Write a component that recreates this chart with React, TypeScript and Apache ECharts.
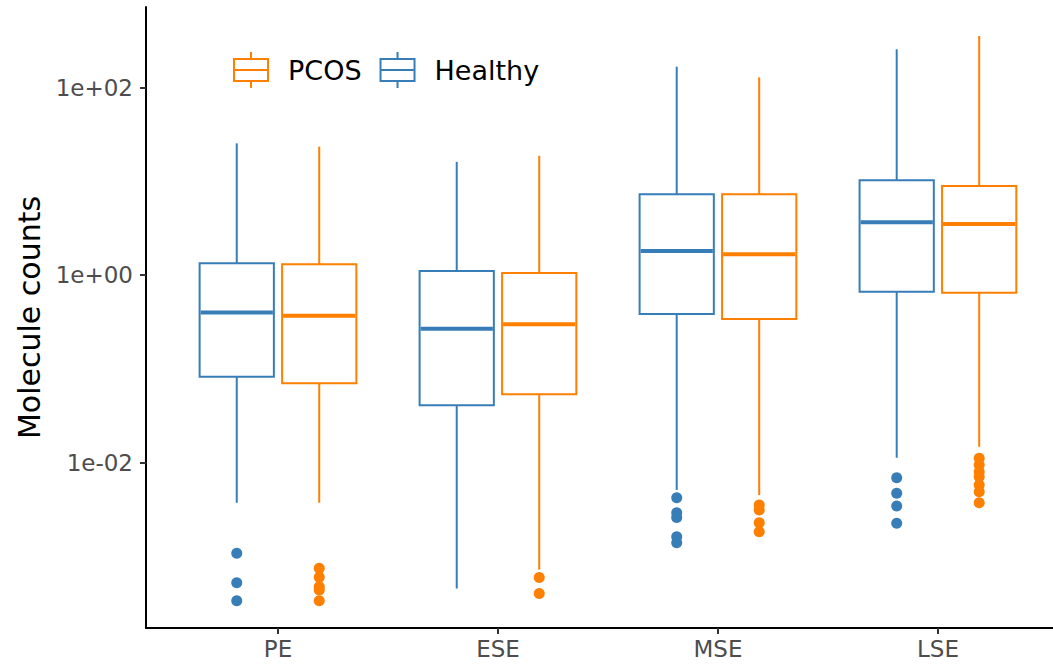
import React, { useEffect, useRef } from 'react';
import * as echarts from 'echarts';

// ---------- data ----------
const categories = ['PE', 'ESE', 'MSE', 'LSE'];

// [lower whisker, Q1, median, Q3, upper whisker]
const healthyBoxes = [
  [0.00374, 0.0827, 0.4, 1.34, 25.5],
  [0.000455, 0.0411, 0.268, 1.11, 16.2],
  [0.00512, 0.386, 1.81, 7.29, 167.5],
  [0.0113, 0.667, 3.67, 10.3, 257],
];
const pcosBoxes = [
  [0.00374, 0.0703, 0.37, 1.31, 23.5],
  [0.000724, 0.0539, 0.299, 1.055, 18.8],
  [0.00452, 0.341, 1.67, 7.29, 129],
  [0.0148, 0.65, 3.52, 8.94, 356],
];
const healthyOutliers = [
  [0.00108, 0.000525, 0.000337],
  [],
  [0.00423, 0.00293, 0.00261, 0.00162, 0.0014],
  [0.00692, 0.00472, 0.00345, 0.00226],
];
const pcosOutliers = [
  [0.000748, 0.0006, 0.000475, 0.000439, 0.000337],
  [0.000596, 0.000402],
  [0.00354, 0.00313, 0.00229, 0.00184],
  [0.01114, 0.00945, 0.00802, 0.00709, 0.00578, 0.00491, 0.00374],
];
const yTicks = [0.01, 1, 100];
const yTickLabels = ['1e-02', '1e+00', '1e+02'];
const legendOrder = ['PCOS', 'Healthy'];

// ---------- style / layout ----------
const BLUE = '#377EB8';
const ORANGE = '#FF7F00';
const FONT = 'DejaVu Sans';
const DODGE = 0.1875; // category units
const BOX_W = 0.3375; // category units
const LEGEND_ICON =
  'path://M0,6H36V8H0Z M0,28H36V30H0Z M0,6H2V30H0Z M34,6H36V30H34Z M0,17H36V19H0Z M17,0H19V6H17Z M17,30H19V36H17Z';

const log10 = (v: number) => Math.log10(v);

const groups = [
  { name: 'Healthy', color: BLUE, boxes: healthyBoxes, outliers: healthyOutliers, offset: -DODGE },
  { name: 'PCOS', color: ORANGE, boxes: pcosBoxes, outliers: pcosOutliers, offset: DODGE },
];

function makeRenderItem(color: string) {
  return (params: any, api: any) => {
    const x = api.value(0);
    const lo = api.coord([x, api.value(1)]);
    const q1 = api.coord([x, api.value(2)]);
    const med = api.coord([x, api.value(3)]);
    const q3 = api.coord([x, api.value(4)]);
    const hi = api.coord([x, api.value(5)]);
    const w = api.size([BOX_W, 0])[0];
    const cx = q1[0];
    const lineStyle = { stroke: color, lineWidth: 2, fill: null };
    return {
      type: 'group',
      children: [
        { type: 'line', shape: { x1: cx, y1: hi[1], x2: cx, y2: q3[1] }, style: lineStyle },
        { type: 'line', shape: { x1: cx, y1: q1[1], x2: cx, y2: lo[1] }, style: lineStyle },
        {
          type: 'rect',
          shape: { x: cx - w / 2, y: q3[1], width: w, height: q1[1] - q3[1] },
          style: { fill: '#ffffff', stroke: color, lineWidth: 2 },
        },
        {
          type: 'line',
          shape: { x1: cx - w / 2 + 1, y1: med[1], x2: cx + w / 2 - 1, y2: med[1] },
          style: { stroke: color, lineWidth: 4, fill: null },
        },
      ],
    };
  };
}

export default function App() {
  const ref = useRef<HTMLDivElement>(null);

  useEffect(() => {
    if (!ref.current) return;
    const chart = echarts.init(ref.current, null, { renderer: 'svg' });

    const series: any[] = [];
    groups.forEach((g) => {
      series.push({
        name: g.name,
        type: 'custom',
        xAxisIndex: 0,
        yAxisIndex: 0,
        itemStyle: { color: g.color },
        renderItem: makeRenderItem(g.color),
        encode: { x: 0, y: [1, 2, 3, 4, 5] },
        data: g.boxes.map((b, i) => [i + 1 + g.offset, ...b.map(log10)]),
        z: 2,
      });
      const pts: number[][] = [];
      g.outliers.forEach((arr, i) => arr.forEach((v) => pts.push([i + 1 + g.offset, log10(v)])));
      series.push({
        name: g.name,
        type: 'scatter',
        symbol: 'circle',
        symbolSize: 11,
        itemStyle: { color: g.color, opacity: 1 },
        data: pts,
        z: 3,
      });
    });

    const catTicks = categories.map((_, i) => i + 1);
    const yTickVals = yTicks.map(log10);

    chart.setOption({
      animation: false,
      backgroundColor: '#ffffff',
      grid: { left: 146, right: 0, top: 7, bottom: 37, containLabel: false },
      legend: {
        data: legendOrder.map((n) => ({
          name: n,
          itemStyle: { color: n === 'PCOS' ? ORANGE : BLUE, borderWidth: 0 },
        })),
        icon: LEGEND_ICON,
        left: 233,
        top: 52,
        padding: 0,
        itemGap: 18,
        itemWidth: 36,
        itemHeight: 36,
        selectedMode: false,
        textStyle: { fontFamily: FONT, fontSize: 27, color: '#000000', padding: [0, 0, 0, 14] },
      },
      xAxis: {
        type: 'value',
        min: 0.4,
        max: 4.523,
        axisLine: { show: true, onZero: false, lineStyle: { color: '#000000', width: 2 } },
        axisTick: { show: true, customValues: catTicks, length: 6, lineStyle: { color: '#333333', width: 2 } },
        axisLabel: {
          show: true,
          customValues: catTicks,
          formatter: (v: number) => categories[Math.round(v) - 1] ?? '',
          fontFamily: FONT,
          fontSize: 23,
          color: '#4d4d4d',
          margin: 9,
        },
        splitLine: { show: false },
      },
      yAxis: {
        type: 'value',
        min: -3.763,
        max: 2.861,
        name: 'Molecule counts',
        nameLocation: 'middle',
        nameRotate: 90,
        nameGap: 100,
        nameTextStyle: { fontFamily: FONT, fontSize: 30, color: '#000000' },
        axisLine: { show: true, onZero: false, lineStyle: { color: '#000000', width: 2 } },
        axisTick: { show: true, customValues: yTickVals, length: 6, lineStyle: { color: '#333333', width: 2 } },
        axisLabel: {
          show: true,
          customValues: yTickVals,
          formatter: (v: number) => {
            const i = yTickVals.findIndex((t) => Math.abs(t - v) < 1e-6);
            return i >= 0 ? yTickLabels[i] : '';
          },
          fontFamily: FONT,
          fontSize: 23,
          color: '#4d4d4d',
          margin: 13,
        },
        splitLine: { show: false },
      },
      series,
    });

    return () => chart.dispose();
  }, []);

  return (
    <div
      ref={ref}
      style={{ position: 'absolute', left: 0, top: 0, width: 1053, height: 665, background: '#fff' }}
    />
  );
}
